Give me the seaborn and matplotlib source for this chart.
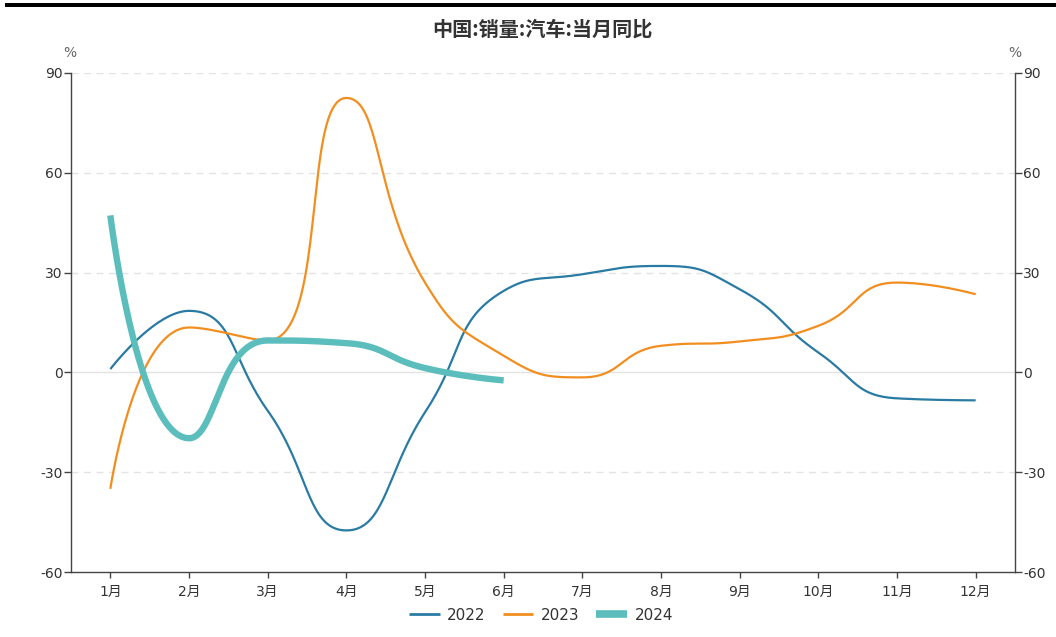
import numpy as np
import pandas as pd
import matplotlib
matplotlib.use("Agg")
import matplotlib.pyplot as plt
from matplotlib.lines import Line2D
from matplotlib.patches import Rectangle
import seaborn as sns

months = ["1月", "2月", "3月", "4月", "5月", "6月", "7月", "8月", "9月", "10月", "11月", "12月"]
v2022 = [1.0, 18.5, -11.5, -47.5, -12.0, 24.5, 29.5, 32.0, 25.0, 6.0, -7.8, -8.4]
v2023 = [-35.0, 13.5, 9.6, 82.5, 27.0, 5.0, -1.5, 8.0, 9.3, 14.0, 27.0, 23.5]
v2024 = [47.2, -19.8, 9.6, 8.8, 1.3, -2.4]
series_names = ["2022", "2023", "2024"]
colors = {"2022": "#2a7ba3", "2023": "#f28e20", "2024": "#5cbdbd"}
widths = {"2022": 1.6, "2023": 1.6, "2024": 4.6}
yticks = [-60, -30, 0, 30, 60, 90]

sns.set_theme(style="white")
plt.rcParams["font.family"] = ["DejaVu Sans", "Noto Sans CJK SC"]
plt.rcParams["axes.unicode_minus"] = False

W, H = 1056, 637
fig = plt.figure(figsize=(W / 100, H / 100), dpi=100)
ax = fig.add_axes([71 / W, (H - 572) / H, 944 / W, 499 / H])
ax.set_xlim(-0.5, 11.5)
ax.set_ylim(-60, 90)

# pixel scale factors from the axes geometry
sx = 944 / 12.0
sy = 499 / 150.0


def echarts_smooth(xs, ys, smooth=0.5, n=40):
    px = [x * sx for x in xs]
    py = [y * sy for y in ys]
    out_x, out_y = [px[0]], [py[0]]
    cp0 = (px[0], py[0])
    N = len(px)
    for i in range(1, N):
        x, y = px[i], py[i]
        prevX, prevY = px[i - 1], py[i - 1]
        if i == N - 1:
            cp1 = (x, y)
            nxt = None
        else:
            nextX, nextY = px[i + 1], py[i + 1]
            vx, vy = nextX - prevX, nextY - prevY
            lp = np.hypot(x - prevX, y - prevY)
            ln = np.hypot(nextX - x, nextY - y)
            r = ln / (ln + lp)
            ncx = x + vx * smooth * r
            ncy = y + vy * smooth * r
            ncx = min(ncx, max(nextX, x)); ncy = min(ncy, max(nextY, y))
            ncx = max(ncx, min(nextX, x)); ncy = max(ncy, min(nextY, y))
            vx, vy = ncx - x, ncy - y
            c1x = x - vx * lp / ln
            c1y = y - vy * lp / ln
            c1x = min(c1x, max(prevX, x)); c1y = min(c1y, max(prevY, y))
            c1x = max(c1x, min(prevX, x)); c1y = max(c1y, min(prevY, y))
            vx, vy = x - c1x, y - c1y
            ncx = x + vx * ln / lp
            ncy = y + vy * ln / lp
            cp1 = (c1x, c1y)
            nxt = (ncx, ncy)
        t = np.linspace(0, 1, n)[1:]
        bx = ((1 - t) ** 3 * prevX + 3 * (1 - t) ** 2 * t * cp0[0]
              + 3 * (1 - t) * t ** 2 * cp1[0] + t ** 3 * x)
        by = ((1 - t) ** 3 * prevY + 3 * (1 - t) ** 2 * t * cp0[1]
              + 3 * (1 - t) * t ** 2 * cp1[1] + t ** 3 * y)
        out_x.extend(bx); out_y.extend(by)
        if nxt is not None:
            cp0 = nxt
    return np.array(out_x) / sx, np.array(out_y) / sy


# grid lines
for yv in yticks:
    if yv == 0:
        ax.axhline(yv, color="#e3e3e3", lw=1.0, zorder=0)
    elif yv == -60:
        continue
    else:
        ax.axhline(yv, color="#e3e3e3", lw=1.0, ls=(0, (5, 4)), zorder=0)

data = {"2022": v2022, "2023": v2023, "2024": v2024}
for name in series_names:
    vals = data[name]
    xs = list(range(len(vals)))
    cx, cy = echarts_smooth(xs, vals)
    df = pd.DataFrame({"x": cx, "y": cy})
    sns.lineplot(data=df, x="x", y="y", sort=False, estimator=None, ax=ax,
                 color=colors[name], lw=widths[name], zorder=3 if name == "2024" else 2,
                 solid_capstyle="butt")

ax.set_xticks(range(12))
ax.set_xticklabels(months)
ax.set_yticks(yticks)
ax.set_xlabel("")
ax.set_ylabel("")
ax.grid(False)
for s in ["top", "right"]:
    ax.spines[s].set_visible(False)
for s in ["left", "bottom"]:
    ax.spines[s].set_color("#444444")
    ax.spines[s].set_linewidth(1.0)
ax.tick_params(axis="y", which="both", left=True, length=5, width=1, color="#444444",
               labelsize=10, labelcolor="#333333", pad=1)
ax.tick_params(axis="x", which="both", bottom=True, length=4, width=1, color="#444444",
               labelsize=10, labelcolor="#333333", pad=5)

ax2 = ax.twinx()
ax2.set_ylim(-60, 90)
ax2.set_yticks(yticks)
ax2.grid(False)
for s in ["top", "left", "bottom"]:
    ax2.spines[s].set_visible(False)
ax2.spines["right"].set_color("#444444")
ax2.spines["right"].set_linewidth(1.0)
ax2.tick_params(axis="y", right=True, length=5, width=1, color="#444444",
                labelsize=10, labelcolor="#333333", pad=1)

fig.text(70 / W, 1 - 53 / H, "%", ha="center", va="center", fontsize=10, color="#666666")
fig.text(1015 / W, 1 - 53 / H, "%", ha="center", va="center", fontsize=10, color="#666666")

fig.text(542 / W, 1 - 29 / H, "中国:销量:汽车:当月同比", ha="center", va="center",
         fontsize=14.5, fontweight="bold", color="#333333",
         family=["Noto Sans CJK SC", "DejaVu Sans"])

fig.patches.append(Rectangle((5 / W, 1 - 7 / H), 1 - 5 / W, 4 / H, transform=fig.transFigure,
                             facecolor="black", edgecolor="none"))

handles = [Line2D([0], [0], color=colors[n], lw=(5.5 if n == "2024" else 2.0),
                  solid_capstyle="butt") for n in series_names]
fig.legend(handles, series_names, loc="center", bbox_to_anchor=(541 / W, 1 - 615 / H),
           ncol=3, frameon=False, fontsize=11, handlelength=2.0, columnspacing=1.1,
           handletextpad=0.5, labelcolor="#333333")

fig.savefig("out.png", dpi=100)
